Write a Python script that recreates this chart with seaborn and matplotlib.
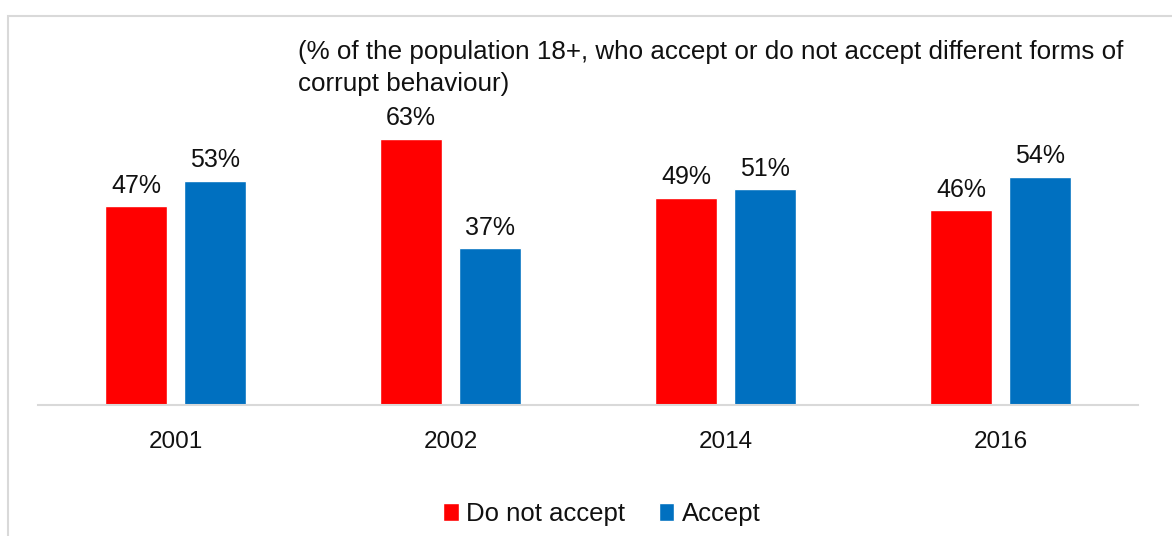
import matplotlib
matplotlib.use("Agg")
import matplotlib.pyplot as plt
import seaborn as sns
import pandas as pd
from matplotlib.patches import Rectangle, Patch

years = ["2001", "2002", "2014", "2016"]
do_not_accept = [47, 63, 49, 46]
accept = [53, 37, 51, 54]
series_names = ["Do not accept", "Accept"]
colors = ["#FF0000", "#0070C0"]
subtitle = "(% of the population 18+, who accept or do not accept different forms of\ncorrupt behaviour)"

df = pd.DataFrame({
    "year": years * 2,
    "value": do_not_accept + accept,
    "series": [series_names[0]] * len(years) + [series_names[1]] * len(years),
})

sns.set_theme(style="white")
plt.rcParams["font.family"] = ["Liberation Sans", "DejaVu Sans"]

W, H = 1172, 536
fig = plt.figure(figsize=(W / 100, H / 100), dpi=100)
ax = fig.add_axes([38 / W, 131 / H, 1100 / W, 385 / H])

sns.barplot(data=df, x="year", y="value", hue="series", palette=colors,
            width=0.575, gap=0.217, ax=ax, legend=False, saturation=1)

ax.set_ylim(0, 385 / 4.23)
ax.set_xlim(-0.5, len(years) - 0.5)
for c in ax.containers:
    ax.bar_label(c, labels=[f"{v:.0f}%" for v in c.datavalues], padding=6, fontsize=18, color="#111111")

for s in ["left", "right", "top"]:
    ax.spines[s].set_visible(False)
ax.spines["bottom"].set_color("#d9d9d9")
ax.spines["bottom"].set_linewidth(1.5)
ax.set_yticks([])
ax.set_xlabel("")
ax.set_ylabel("")
ax.tick_params(axis="x", length=0, pad=19, labelsize=17.5, colors="#111111")

fig.text(298 / W, 1 - 40 / H, subtitle, fontsize=18.7, color="#111111",
         va="top", ha="left", linespacing=1.4)

fig.patches.append(Rectangle((8 / W, -0.1), 1.2, (H - 16) / H + 0.1, transform=fig.transFigure,
                             fill=False, edgecolor="#d9d9d9", linewidth=1.5))

handles = [Patch(facecolor=colors[i], label=series_names[i]) for i in range(2)]
fig.legend(handles=handles, loc="center", bbox_to_anchor=(602 / W, 1 - 514 / H), ncol=2,
           frameon=False, fontsize=18.5, handlelength=0.6, handleheight=0.7,
           handletextpad=0.3, columnspacing=1.3, labelcolor="#111111")

fig.savefig("out.png", dpi=100)
